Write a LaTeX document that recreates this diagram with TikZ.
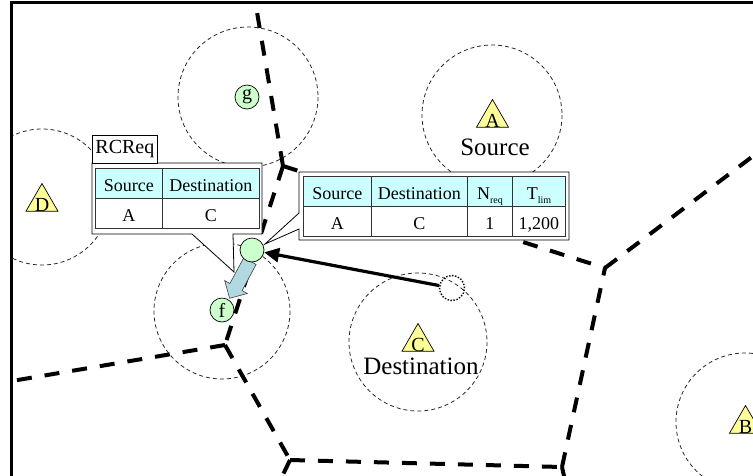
\documentclass[tikz,border=0pt]{standalone}
\usepackage{fontspec}
\setmainfont{Liberation Serif}
\usetikzlibrary{shapes.geometric,arrows.meta,calc}
\definecolor{nodegreen}{RGB}{204,255,204}
\definecolor{triyellow}{RGB}{255,255,153}
\definecolor{headcyan}{RGB}{204,255,255}
\definecolor{arrowblue}{RGB}{178,216,226}
\begin{document}
\begin{tikzpicture}[x=1pt,y=-1pt,
  coverage/.style={line width=0.8pt, dash pattern=on 4pt off 3pt, black!85},
  border/.style={line width=4pt, dash pattern=on 15pt off 13pt},
  frameline/.style={line width=3pt},
  host/.style={circle, draw, line width=0.7pt, fill=nodegreen, minimum size=24pt, inner sep=0pt, font=\fontsize{20}{20}\selectfont},
  ghoststyle/.style={circle, draw, line width=1.4pt, dash pattern=on 1.4pt off 1.6pt, minimum size=25pt, inner sep=0pt},
  station/.style={regular polygon, regular polygon sides=3, draw, line width=0.7pt, fill=triyellow, minimum size=37pt, inner sep=0pt},
  letter/.style={font=\fontsize{20}{20}\selectfont, inner sep=0pt, anchor=base},
  biglabel/.style={font=\fontsize{25}{25}\selectfont, inner sep=0pt, anchor=base},
  callout/.style={draw, line width=0.8pt, fill=white},
  tabstyle/.style={draw, line width=0.8pt, fill=white, anchor=north west, inner sep=0pt, font=\fontsize{20}{20}\selectfont},
  cell/.style={draw=black!80, line width=0.9pt, fill=white, anchor=north west, inner sep=0pt, minimum height=30pt, text height=16pt, text depth=0pt, font=\fontsize{18}{18}\selectfont},
  hcell/.style={cell, fill=headcyan},
  mover/.style={fill=arrowblue, draw=black!75, line width=0.6pt},
  report/.style={line width=3.2pt, -{Triangle[length=15pt,width=14pt]}}
]
\useasboundingbox (0,0) rectangle (753,475);

\coordinate (V1) at (283,166);
\coordinate (V2) at (225,345);
\coordinate (V3) at (605,268);
\coordinate (V4) at (290,460);
\coordinate (V5) at (562,467);
\coordinate (Etop) at (253.6,-8);
\coordinate (Eleft) at (0,383);
\coordinate (Ebot1) at (278,485);
\coordinate (Ebot2) at (566,485);
\coordinate (Eright) at (765,147);

\begin{scope}
  \clip (11,2) rectangle (753,475);
  % coverage circles
  \draw[coverage] (248,97) circle[radius=70];
  \draw[coverage] (492,115) circle[radius=70];
  \draw[coverage] (42,197) circle[radius=68];
  \draw[coverage] (222,311) circle[radius=68];
  \draw[coverage] (418,342) circle[radius=69];
  \draw[coverage] (745,422) circle[radius=69];
  % borders
  \draw[border] (V1) -- (Etop);
  \draw[border] (V1) -- (V2);
  \draw[border] (V1) -- (V3);
  \draw[border] (V2) -- (Eleft);
  \draw[border] (V2) -- (V4);
  \draw[border] (V4) -- (Ebot1);
  \draw[border] (V4) -- (V5);
  \draw[border] (V5) -- (Ebot2);
  \draw[border] (V5) -- (V3);
  \draw[border] (V3) -- (Eright);
\end{scope}
\draw[frameline] (11,490) -- (11,2) -- (770,2);

\coordinate (tip1) at (234,272);
\coordinate (tip2) at (265,244);

% callout 1
\draw[callout] (92,163) -- (262,163) -- (262,234) -- (233,234) -- (tip1) -- (192,234) -- (92,234) -- cycle;
\node[tabstyle, minimum width=65pt, minimum height=28pt] (rcreq) at (92,135) {RCReq};
\node[hcell, minimum width=67pt] (t1s) at (95,168) {Source};
\node[hcell, minimum width=97pt] (t1d) at (162,168) {Destination};
\node[cell, minimum width=67pt] (t1a) at (95,198) {A};
\node[cell, minimum width=97pt] (t1c) at (162,198) {C};

% callout 2
\draw[callout] (299,172) -- (569,172) -- (569,240) -- (299,240) -- (299,229) -- (tip2) -- (299,213) -- cycle;
\node[hcell, minimum width=68pt] (t2s) at (303,176) {Source};
\node[hcell, minimum width=96pt] (t2d) at (371,176) {Destination};
\node[hcell, minimum width=45pt] (t2n) at (467,176) {N\raisebox{-4pt}[0pt][0pt]{\fontsize{10}{10}\selectfont req}};
\node[hcell, minimum width=53pt] (t2t) at (512,176) {T\raisebox{-4pt}[0pt][0pt]{\fontsize{10}{10}\selectfont lim}};
\node[cell, minimum width=68pt] (t2a) at (303,206) {A};
\node[cell, minimum width=96pt] (t2c) at (371,206) {C};
\node[cell, minimum width=45pt] (t2one) at (467,206) {1};
\node[cell, minimum width=53pt] (t2lim) at (512,206) {1,200};

% movement arrow
\draw[mover] (243.9,257.5) -- (229.9,283.5) -- (224.7,280.6) -- (229.6,298.3) -- (247.3,293.5) -- (242.1,290.5) -- (256.1,264.5) -- cycle;

% nodes
\node[ghoststyle] (ghost) at (452,288) {};
\node[host] (mobile) at (252,250) {};
\draw[report] (ghost) -- (mobile);
\node[host] (g) at (247,97) {g};
\node[host] (f) at (222,310) {f};

% stations
\node[station] (A) at (492.5,118) {};
\node[letter] (Alab) at ($(A.center)+(0,9)$) {A};
\node[biglabel] (srclab) at (495,155) {Source};
\node[station] (C) at (418,342) {};
\node[letter] (Clab) at ($(C.center)+(0,9)$) {C};
\node[biglabel] (dstlab) at (421,374) {Destination};
\node[station] (D) at (42,202) {};
\node[letter] (Dlab) at ($(D.center)+(0,9)$) {D};
\node[station] (B) at (745.5,424) {};
\node[letter] (Blab) at ($(B.center)+(0,9)$) {B};
\end{tikzpicture}
\end{document}
